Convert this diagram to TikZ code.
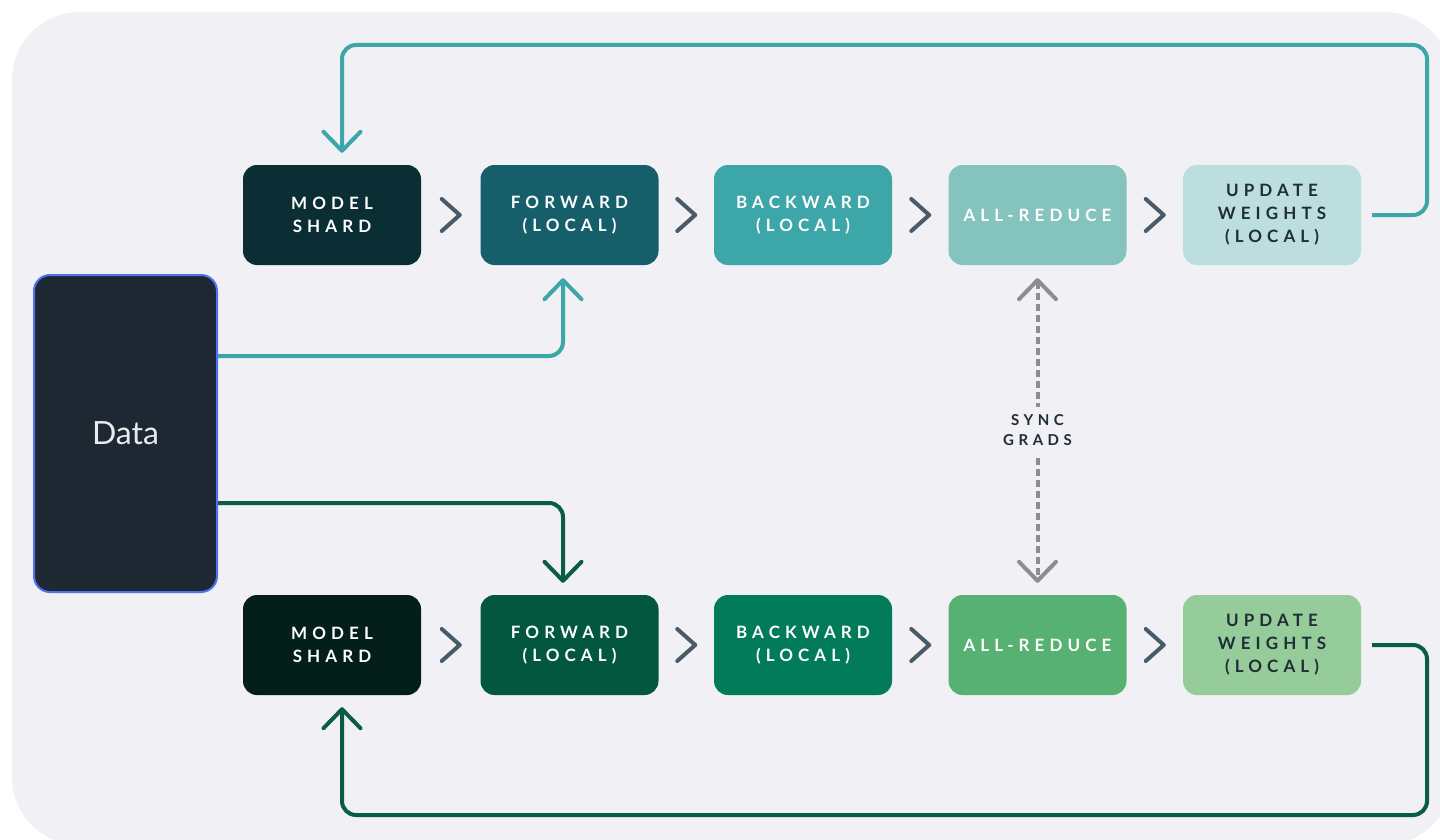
\documentclass[tikz,border=0pt]{standalone}
\usepackage{fontspec}
\setmainfont{Lato}
\newfontfamily\lblfont[LetterSpace=30]{Lato}
\usetikzlibrary{arrows.meta,calc}
\definecolor{bg}{HTML}{F0F0F5}
\definecolor{dataf}{HTML}{1E2833}
\definecolor{datab}{HTML}{4F72F0}
\definecolor{tA}{HTML}{0B2E35}
\definecolor{tB}{HTML}{165F6A}
\definecolor{tC}{HTML}{3DA6A8}
\definecolor{tD}{HTML}{85C4BE}
\definecolor{tE}{HTML}{BCDEDC}
\definecolor{gA}{HTML}{041F19}
\definecolor{gB}{HTML}{03573F}
\definecolor{gC}{HTML}{017B59}
\definecolor{gD}{HTML}{57B173}
\definecolor{gE}{HTML}{96CB9A}
\definecolor{tealline}{HTML}{3DA6A8}
\definecolor{greenline}{HTML}{0A5C45}
\definecolor{chevc}{HTML}{4A5A68}
\definecolor{darktext}{HTML}{1F2D38}
\definecolor{syncc}{HTML}{8A8D93}
\begin{document}
\begin{tikzpicture}[x=1pt,y=-1pt,
  box/.style={rounded corners=14pt, minimum width=178pt, minimum height=100pt,
    inner sep=0pt, align=center, text=white,
    font=\lblfont\bfseries\fontsize{17}{23}\selectfont},
  chev/.style={draw=chevc, line width=4pt, line cap=round, line join=round},
  barb/.tip={Straight Barb[length=19pt,width=37pt,round]},
  conn/.style={line width=4pt, rounded corners=14pt, -barb},
  sync/.style={draw=syncc, line width=4pt, dash pattern=on 7pt off 4pt, barb-barb},
  lbl/.style={fill=bg, inner sep=8pt, align=center, text=darktext,
    font=\lblfont\bfseries\fontsize{15}{20}\selectfont}]
\useasboundingbox (0,0) rectangle (1440,840);
\fill[white] (0,0) rectangle (1440,840);
\fill[bg, rounded corners=68pt] (12,12) rectangle (1452,845);

% Data
\node[draw=datab, line width=2pt, fill=dataf, rounded corners=16pt,
  minimum width=183pt, minimum height=317pt, text=white!90!dataf,
  font=\fontsize{32}{36}\selectfont] (data) at (125.5,433.5) {Data};

% top row
\node[box, fill=tA] (m1) at (332,215) {MODEL\\SHARD};
\node[box, fill=tB] (f1) at (569.5,215) {FORWARD\\(LOCAL)};
\node[box, fill=tC] (b1) at (803,215) {BACKWARD\\(LOCAL)};
\node[box, fill=tD] (a1) at (1037.5,215) {ALL-REDUCE};
\node[box, fill=tE, text=darktext] (u1) at (1272,215) {UPDATE\\WEIGHTS\\(LOCAL)};
% bottom row
\node[box, fill=gA] (m2) at (332,645) {MODEL\\SHARD};
\node[box, fill=gB] (f2) at (569.5,645) {FORWARD\\(LOCAL)};
\node[box, fill=gC] (b2) at (803,645) {BACKWARD\\(LOCAL)};
\node[box, fill=gD] (a2) at (1037.5,645) {ALL-REDUCE};
\node[box, fill=gE, text=darktext] (u2) at (1272,645) {UPDATE\\WEIGHTS\\(LOCAL)};

% chevrons
\foreach \a/\b in {m1/f1,f1/b1,b1/a1,a1/u1,m2/f2,f2/b2,b2/a2,a2/u2}
  \draw[chev] ($(\a.east)!.5!(\b.west)$) +(-9,-16) -- +(9,0) -- +(-9,16);

% loops
\draw[conn, tealline] ($(u1.east)+(11,0)$) -- (1427,215) -- (1427,45) -- (342,45) -- ($(m1.north)+(10,-12)$);
\draw[conn, greenline] ($(u2.east)+(11,0)$) -- (1427,645) -- (1427,815) -- (342,815) -- ($(m2.south)+(10,12)$);

% data feeds
\draw[conn, tealline] ($(data.east)+(0,-77.5)$) -| ($(f1.south)+(-6.5,13)$);
\draw[conn, greenline] ($(data.east)+(0,69.5)$) -| ($(f2.north)+(-6.5,-12)$);

% sync grads
\draw[sync] ($(a1.south)+(0,13)$) -- node[lbl]{SYNC\\GRADS} ($(a2.north)+(0,-12)$);
\end{tikzpicture}
\end{document}
